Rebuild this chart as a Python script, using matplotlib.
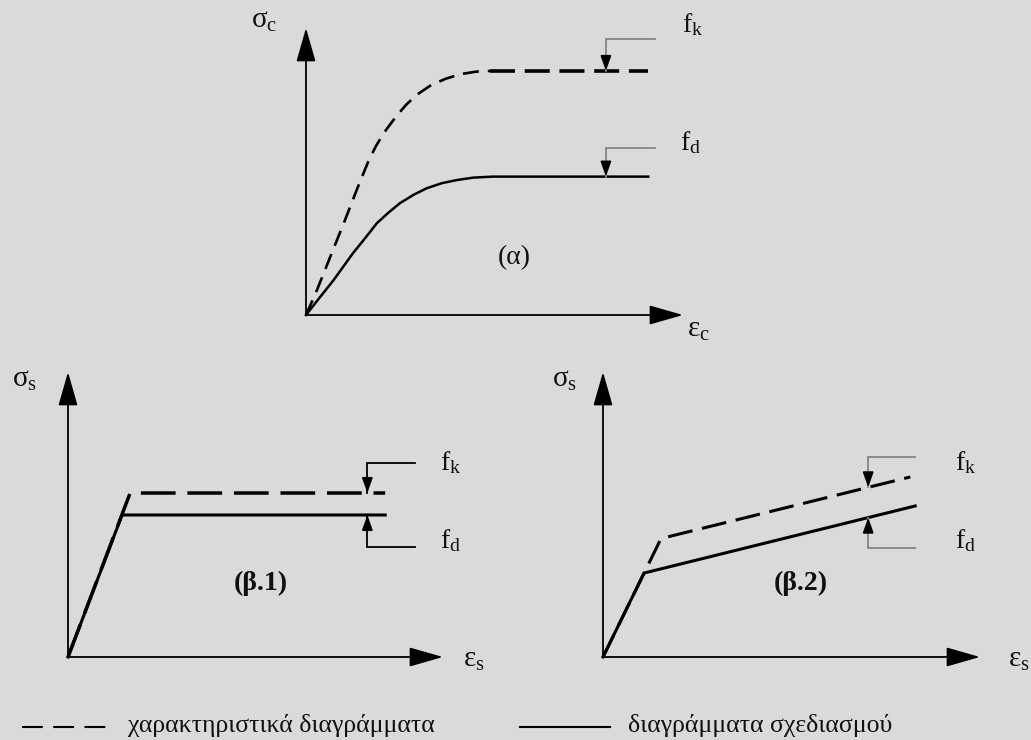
import numpy as np
import matplotlib.pyplot as plt
from matplotlib.lines import Line2D

plt.rcParams['font.family'] = ['Liberation Serif', 'DejaVu Serif']
plt.rcParams['mathtext.fontset'] = 'custom'
plt.rcParams['mathtext.rm'] = 'Liberation Serif'
plt.rcParams['mathtext.it'] = 'Liberation Serif:italic'
plt.rcParams['mathtext.bf'] = 'Liberation Serif:bold'
plt.rcParams['lines.scale_dashes'] = False

W, H = 1031, 740
BG = '#dadada'
INK = '#111111'
GREY = '#858585'

# (α) concrete: strain in permille, stress relative to fk
conc_eps_k = [0, 0.105, 0.279, 0.424, 0.558, 0.678, 0.76, 0.848, 0.986, 1.09,
              1.203, 1.36, 1.518, 1.68, 1.845, 2.0]
conc_sig_k = [0, 0.089, 0.253, 0.389, 0.519, 0.630, 0.692, 0.747, 0.817, 0.862,
              0.902, 0.942, 0.968, 0.987, 0.997, 1.0]
conc_eps_d = [0, 0.152, 0.30, 0.51, 0.641, 0.77, 0.895, 1.02, 1.167, 1.31,
              1.475, 1.64, 1.82, 2.03]
conc_sig_d = [0, 0.073, 0.143, 0.253, 0.314, 0.376, 0.419, 0.458, 0.492, 0.519,
              0.540, 0.553, 0.563, 0.567]
conc_eps_end = 3.72

# (β.1) steel, horizontal top branch
st1_eps_k = [0, 1.15, 5.87]
st1_sig_k = [0, 1.0, 1.0]
st1_eps_d = [0, 1.0, 5.87]
st1_sig_d = [0, 0.866, 0.866]

# (β.2) steel, inclined top branch
st2_eps_k = [0, 1.06, 1.13, 5.69]
st2_sig_k = [0, 0.713, 0.727, 1.098]
st2_eps_d = [0, 0.76, 5.78]
st2_sig_d = [0, 0.512, 0.921]

legend_labels = ['χαρακτηριστικά διαγράμματα', 'διαγράμματα σχεδιασμού']

fig = plt.figure(figsize=(W / 100, H / 100), dpi=100, facecolor=BG)


def panel(ox, oy, tip_x, tip_y, xmax, ymax):
    """Axes whose origin sits at pixel (ox, oy), with arrow tips at tip_x / tip_y."""
    ax = fig.add_axes([ox / W, 1 - oy / H, (tip_x - ox) / W, (oy - tip_y) / H])
    ax.set_xlim(0, xmax)
    ax.set_ylim(0, ymax)
    ax.axis('off')
    for xy in [(1, 0), (0, 1)]:
        ax.annotate('', xy=xy, xytext=(0, 0), xycoords='axes fraction',
                    arrowprops=dict(arrowstyle='-|>,head_length=2.1,head_width=0.6',
                                    color='black', lw=1.3, shrinkA=0, shrinkB=0,
                                    mutation_scale=10))
    return ax


def level_arrow(ax, x, y_from, y_tip, x_end, color):
    ax.plot([x_end, x, x], [y_from, y_from, y_tip], color=color, lw=1.3,
            clip_on=False, solid_joinstyle='miter')
    dy = 10 if y_from > y_tip else -10
    ax.annotate('', xy=(x, y_tip), xytext=(0, dy), textcoords='offset points',
                arrowprops=dict(arrowstyle='-|>,head_length=0.9,head_width=0.32',
                                color='black', lw=1.3, shrinkA=0, shrinkB=0,
                                mutation_scale=10))


def label(ax, x, y, s, size=21):
    ax.text(x, y, s, fontsize=size, color=INK, va='baseline', ha='left', clip_on=False)


# (α)
ax = panel(306, 315, 683, 28, 4.098, 1.176)
ax.plot(conc_eps_k, conc_sig_k, color='black', lw=1.9, dashes=(11.5, 6.5), clip_on=False)
ax.plot([conc_eps_k[-1], conc_eps_end], [conc_sig_k[-1]] * 2, color='black', lw=2.6,
        dashes=(18, 7), clip_on=False)
ax.plot(conc_eps_d + [conc_eps_end], conc_sig_d + [conc_sig_d[-1]], color='black',
        lw=1.8, clip_on=False)
level_arrow(ax, 3.26, 1.131, conc_sig_k[-1], 3.79, GREY)
level_arrow(ax, 3.26, 0.686, conc_sig_d[-1], 3.79, GREY)
label(ax, -0.6, 1.175, r'$\mathrm{σ}_\mathrm{c}$')
label(ax, 4.14, -0.09, r'$\mathrm{ε}_\mathrm{c}$')
label(ax, 4.09, 1.16, r'$\mathrm{f}_\mathrm{k}$', 20)
label(ax, 4.07, 0.676, r'$\mathrm{f}_\mathrm{d}$', 20)
ax.text(2.26, 0.234, '(α)', fontsize=20, color=INK, ha='center', va='center')

# (β.1)
ax = panel(68, 657, 443, 372, 6.94, 1.738)
ax.plot(st1_eps_k, st1_sig_k, color='black', lw=2.5, dashes=(25, 8.5), clip_on=False)
ax.plot(st1_eps_d, st1_sig_d, color='black', lw=2.2, clip_on=False)
level_arrow(ax, 5.54, 1.183, np.interp(5.54, st1_eps_k, st1_sig_k), 6.43, 'black')
level_arrow(ax, 5.54, 0.671, np.interp(5.54, st1_eps_d, st1_sig_d), 6.43, 'black')
label(ax, -1.04, 1.646, r'$\mathrm{σ}_\mathrm{s}$')
label(ax, 7.31, -0.061, r'$\mathrm{ε}_\mathrm{s}$')
label(ax, 6.89, 1.14, r'$\mathrm{f}_\mathrm{k}$', 20)
label(ax, 6.89, 0.665, r'$\mathrm{f}_\mathrm{d}$', 20)
ax.text(3.57, 0.451, '(β.1)', fontsize=20, fontweight='bold', color=INK,
        ha='center', va='center')

# (β.2)
ax = panel(603, 657, 980, 372, 6.98, 1.738)
ax.plot(st2_eps_k, st2_sig_k, color='black', lw=2.2, dashes=(18, 7), clip_on=False)
ax.plot(st2_eps_d, st2_sig_d, color='black', lw=2.2, clip_on=False)
level_arrow(ax, 4.91, 1.22, np.interp(4.91, st2_eps_k, st2_sig_k), 5.78, GREY)
level_arrow(ax, 4.91, 0.665, np.interp(4.91, st2_eps_d, st2_sig_d), 5.78, GREY)
label(ax, -0.944, 1.646, r'$\mathrm{σ}_\mathrm{s}$')
label(ax, 7.5, -0.061, r'$\mathrm{ε}_\mathrm{s}$')
label(ax, 6.52, 1.14, r'$\mathrm{f}_\mathrm{k}$', 20)
label(ax, 6.52, 0.665, r'$\mathrm{f}_\mathrm{d}$', 20)
ax.text(3.67, 0.451, '(β.2)', fontsize=20, fontweight='bold', color=INK,
        ha='center', va='center')

# key along the bottom edge
key_y = 1 - 727 / H
fig.add_artist(Line2D([22 / W, 108 / W], [key_y, key_y], transform=fig.transFigure,
                      color='black', lw=1.5, dashes=(15, 7.5)))
fig.text(128 / W, 1 - 732 / H, legend_labels[0], fontsize=18.5, color=INK, va='baseline')
fig.add_artist(Line2D([520 / W, 610 / W], [key_y, key_y], transform=fig.transFigure,
                      color='black', lw=1.5))
fig.text(628 / W, 1 - 732 / H, legend_labels[1], fontsize=18.5, color=INK, va='baseline')

fig.savefig('out.png', dpi=100, facecolor=BG)
